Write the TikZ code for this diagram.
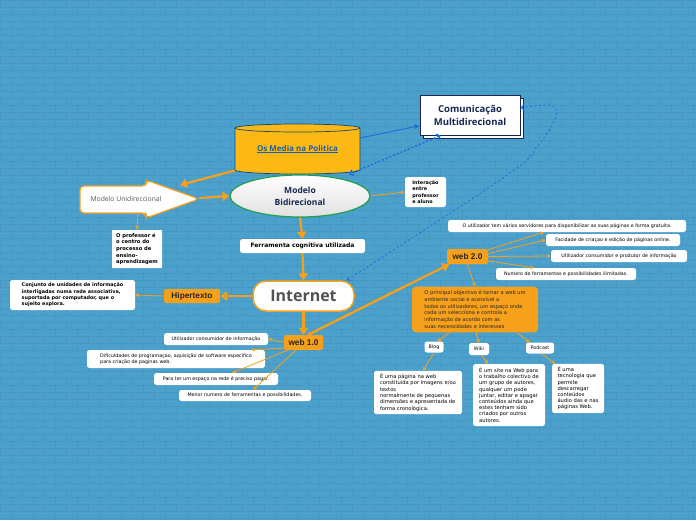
\documentclass[tikz,border=0pt]{standalone}
\usepackage{fontspec}
\setmainfont{Open Sans}
\newfontfamily\dejavu{DejaVu Sans}
\newfontfamily\arialf{Liberation Sans}
\usetikzlibrary{shapes.geometric,arrows.meta}
\definecolor{bgblue}{RGB}{76,160,204}
\definecolor{orng}{RGB}{247,160,27}
\definecolor{cylfill}{RGB}{253,185,19}
\definecolor{navy}{RGB}{20,40,80}
\definecolor{linkblue}{RGB}{25,95,175}
\definecolor{dotblue}{RGB}{25,110,225}
\definecolor{greenb}{RGB}{30,160,80}
\begin{document}
\begin{tikzpicture}[x=1pt,y=-1pt,
  brick/.style={draw=black, opacity=0.05, line width=0.5pt},
  thickarr/.style={draw=orng, line width=2.2pt, -{Triangle[length=7pt,width=9pt]}},
  thinarr/.style={draw=orng, line width=0.8pt, -{Triangle[length=3.5pt,width=3.5pt]}},
  note/.style={fill=white, rounded corners=2.5pt, inner sep=1.5pt, align=left,
    font=\dejavu\fontsize{4.8}{6.3}\selectfont, text=black},
  boldnote/.style={note, font=\dejavu\bfseries\fontsize{4.9}{6.3}\selectfont},
  obox/.style={fill=orng, rounded corners=2pt, inner sep=1pt,
    font=\arialf\bfseries\fontsize{8.3}{9}\selectfont, text=black!85},
]
\useasboundingbox (0,0) rectangle (696,520);
\fill[bgblue] (0,0) rectangle (696,520);
% brick texture
\foreach \r in {0,...,74}{
  \draw[brick] (0,\r*7) -- (696,\r*7);
}
\foreach \r in {0,...,73}{
  \foreach \c in {0,...,32}{
    \draw[brick] ({\c*22+mod(\r,2)*11},\r*7) -- ++(0,7);
  }
}

% Comunicacao Multidirecional
\node[draw=navy, line width=0.8pt, fill=white, minimum width=100pt, minimum height=40pt] (comshadow) at (473,118) {};
\node[draw=navy, line width=1pt, fill=white, minimum width=100pt, minimum height=40pt,
  align=center, font=\bfseries\fontsize{9.5}{13}\selectfont, text=navy] (com) at (470,115) {Comunicação\\Multidirecional};

% cylinder Os Media na Politica
\path[fill=cylfill, draw=linkblue!70!black, line width=0.7pt]
  (235,128) -- (235,170) arc[start angle=180, end angle=0, x radius=62.5, y radius=4]
  -- (360,128) arc[start angle=0, end angle=-180, x radius=62.5, y radius=4] -- cycle;
\draw[linkblue!70!black, line width=0.7pt] (235,128) arc[start angle=180, end angle=0, x radius=62.5, y radius=4];
\node[minimum width=125pt, minimum height=50pt, inner sep=0,
  font=\bfseries\fontsize{8}{10}\selectfont, text=linkblue] (media) at (297.5,149) {\underline{Os Media na Politica}};

% Modelo Bidirecional
\node[ellipse, draw=greenb, line width=1.2pt, top color=white, bottom color=black!12,
  minimum width=140pt, minimum height=42pt, inner sep=0, align=center,
  font=\bfseries\fontsize{8.5}{12}\selectfont, text=navy] (bi) at (300,196) {Modelo\\Bidirecional};

% Modelo Unidireccional (arrow shape)
\path[fill=white, draw=orng, line width=1.2pt, rounded corners=4pt]
  (80,186) -- (146,186) -- (146,180) -- (199,199) -- (146,218) -- (146,213) -- (80,213) -- cycle;
\node[font=\fontsize{6.8}{8}\selectfont, text=black!65] (uni) at (126,199) {Modelo Unidireccional};
\coordinate (unitop) at (180,185);
\coordinate (unitip) at (199,198);
\coordinate (unibot) at (138,213);

\node[boldnote, rounded corners=0.5pt, font=\dejavu\bfseries\fontsize{5.2}{6.6}\selectfont,
  minimum width=50pt, minimum height=38pt] (prof) at (137,249)
  {O professor é\\o centro do\\processo de\\ensino-\\aprendizagem};

\node[boldnote, minimum width=41pt, minimum height=30pt] (inter) at (425.5,192)
  {Interação\\entre\\professor\\e aluno};

\node[note, font=\dejavu\bfseries\fontsize{6}{7}\selectfont, align=center,
  minimum width=125pt, minimum height=14pt] (ferr) at (302.5,246) {Ferramenta cognitiva utilizada};

\node[draw=orng, line width=1.5pt, fill=white, rounded corners=13pt, minimum width=101pt,
  minimum height=30pt, font=\bfseries\fontsize{16}{18}\selectfont, text=black!68] (internet) at (303.5,296) {Internet};

\node[obox, minimum width=56pt, minimum height=14pt] (hiper) at (192,296) {Hipertexto};
\node[boldnote, inner sep=3pt, minimum width=125pt, minimum height=30pt] (conj) at (72.5,295)
  {Conjunto de unidades de informação\\interligadas numa rede associativa,\\suportada por computador, que o\\sujeito explora.};

% web 1.0
\node[obox, minimum width=39pt, minimum height=15pt] (web1) at (303.5,342.5) {web 1.0};
\node[note, minimum width=104pt, minimum height=12pt] (w1a) at (216,339) {Utilizador consumidor de informação};
\node[note, minimum width=178pt, minimum height=18pt] (w1b) at (176,359)
  {Dificuldades de programaçao, aquisição de software especifico\\para criação de paginas web.};
\node[note, minimum width=124pt, minimum height=12pt] (w1c) at (216,379) {Para ter um espaço na rede é preciso pagar.};
\node[note, minimum width=132pt, minimum height=11pt] (w1d) at (245,395.5) {Menor numero de ferramentas e possibilidades.};

% web 2.0
\node[obox, minimum width=41pt, minimum height=15pt] (web2) at (467.5,256.5) {web 2.0};
\node[note, minimum width=238pt, minimum height=12pt] (w2a) at (567,226)
  {O utilizador tem vários servidores para disponibilizar as suas páginas e forma gratuita.};
\node[note, minimum width=134pt, minimum height=12pt] (w2b) at (613,240) {Facidade de criaçao e edição de páginas online.};
\node[note, minimum width=136pt, minimum height=12pt] (w2c) at (619,256) {Utilizador consumidor e produtor de informação};
\node[note, minimum width=140pt, minimum height=12pt] (w2d) at (566,274) {Numero de ferramentas e possibilidades ilimitadas.};

\node[fill=orng, rounded corners=4pt, inner sep=4pt, align=left, minimum width=126pt, minimum height=45pt,
  font=\dejavu\fontsize{5.1}{6.7}\selectfont, text=black!85] (obj) at (475,309.5)
  {O principal objectivo é tornar a web um\\ambiente social e acessível a\\todos os utilizadores, um espaço onde\\cada um selecciona e controla a\\informação de acordo com as\\suas necessidades e interesses};

\node[note, align=center, minimum width=19pt, minimum height=11pt] (blog) at (434,347) {Blog};
\node[note, align=center, minimum width=20pt, minimum height=12pt] (wiki) at (479,349) {Wiki};
\node[note, align=center, minimum width=28pt, minimum height=11pt] (podcast) at (540,348) {Podcast};

\node[note, font=\dejavu\fontsize{5.2}{6.3}\selectfont, inner sep=3pt, minimum width=88pt, minimum height=43pt] (blogd) at (418,392.5)
  {É uma página na web\\constituída por imagens e/ou\\textos\\normalmente de pequenas\\dimensões e apresentada de\\forma cronológica.};
\node[note, font=\dejavu\fontsize{5.2}{6.2}\selectfont, inner sep=3pt, minimum width=72pt, minimum height=62pt] (wikid) at (509,395)
  {É um site na Web para\\o trabalho colectivo de\\um grupo de autores,\\qualquer um pode\\juntar, editar e apagar\\conteúdos ainda que\\estes tenham sido\\criados por outros\\autores.};
\node[note, font=\dejavu\fontsize{5.2}{6.2}\selectfont, inner sep=3pt, minimum width=52pt, minimum height=49pt] (podd) at (578,388.5)
  {É uma\\tecnologia que\\permite\\descarregar\\conteúdos\\áudio das e nas\\páginas Web.};

% blue connectors
\draw[dotblue, line width=0.9pt, -{Triangle[length=5pt,width=4.5pt]}] (media.10) -- (com.192);
\draw[dotblue, line width=1.4pt, dash pattern=on 2pt off 2pt,
  {Straight Barb[length=3pt,width=6pt]}-{Straight Barb[length=3pt,width=6pt]}] (com.215) -- (media.-26);
\draw[dotblue, line width=0.8pt, dash pattern=on 2pt off 2.5pt,
  {Straight Barb[length=2.5pt,width=4pt]}-{Straight Barb[length=3pt,width=6pt]}]
  plot[smooth, tension=0.55] coordinates {(internet.20) (510,173) (536,148) (551,127) (557,112) (549,105) (com.8)};

% orange connectors
\draw[thickarr] (media.199) -- (unitop);
\draw[thickarr] (unitip) -- (bi.west);
\draw[thinarr] (unibot) -- (prof.north);
\draw[thinarr] (bi.east) -- (inter.west);
\draw[thickarr] (bi.south) -- (ferr.north);
\draw[thickarr] (ferr.south) -- (internet.north);
\draw[thickarr] (internet.west) -- (hiper.east);
\draw[thinarr] (hiper.west) -- (conj.east);
\draw[thickarr] (internet.south) -- (web1.north);
\draw[thickarr] (web1.60) -- (web2.203);
\draw[thinarr] (web1.west) -- (w1a.east);
\draw[thinarr] (web1.196) -- (w1b.7);
\draw[thinarr] (web1.206) -- (w1c.21);
\draw[thinarr] (web1.225) -- (w1d.35);
\draw[thinarr] (web2.18) -- (w2a.195);
\draw[thinarr] (web2.8) -- (w2b.west);
\draw[thinarr] (web2.east) -- (w2c.west);
\draw[thinarr] (web2.-12) -- (w2d.169);
\draw[thinarr] (web2.south) -- (obj.north);
\draw[thinarr] (obj.222) -- (blog.60);
\draw[thinarr] (obj.272) -- (wiki.north);
\draw[thinarr] (obj.-29) -- (podcast.151);
\draw[thinarr] (blog.south) -- (blogd.77);
\draw[thinarr] (wiki.-70) -- (wikid.124);
\draw[thinarr] (podcast.-70) -- (podd.133);
\end{tikzpicture}
\end{document}
